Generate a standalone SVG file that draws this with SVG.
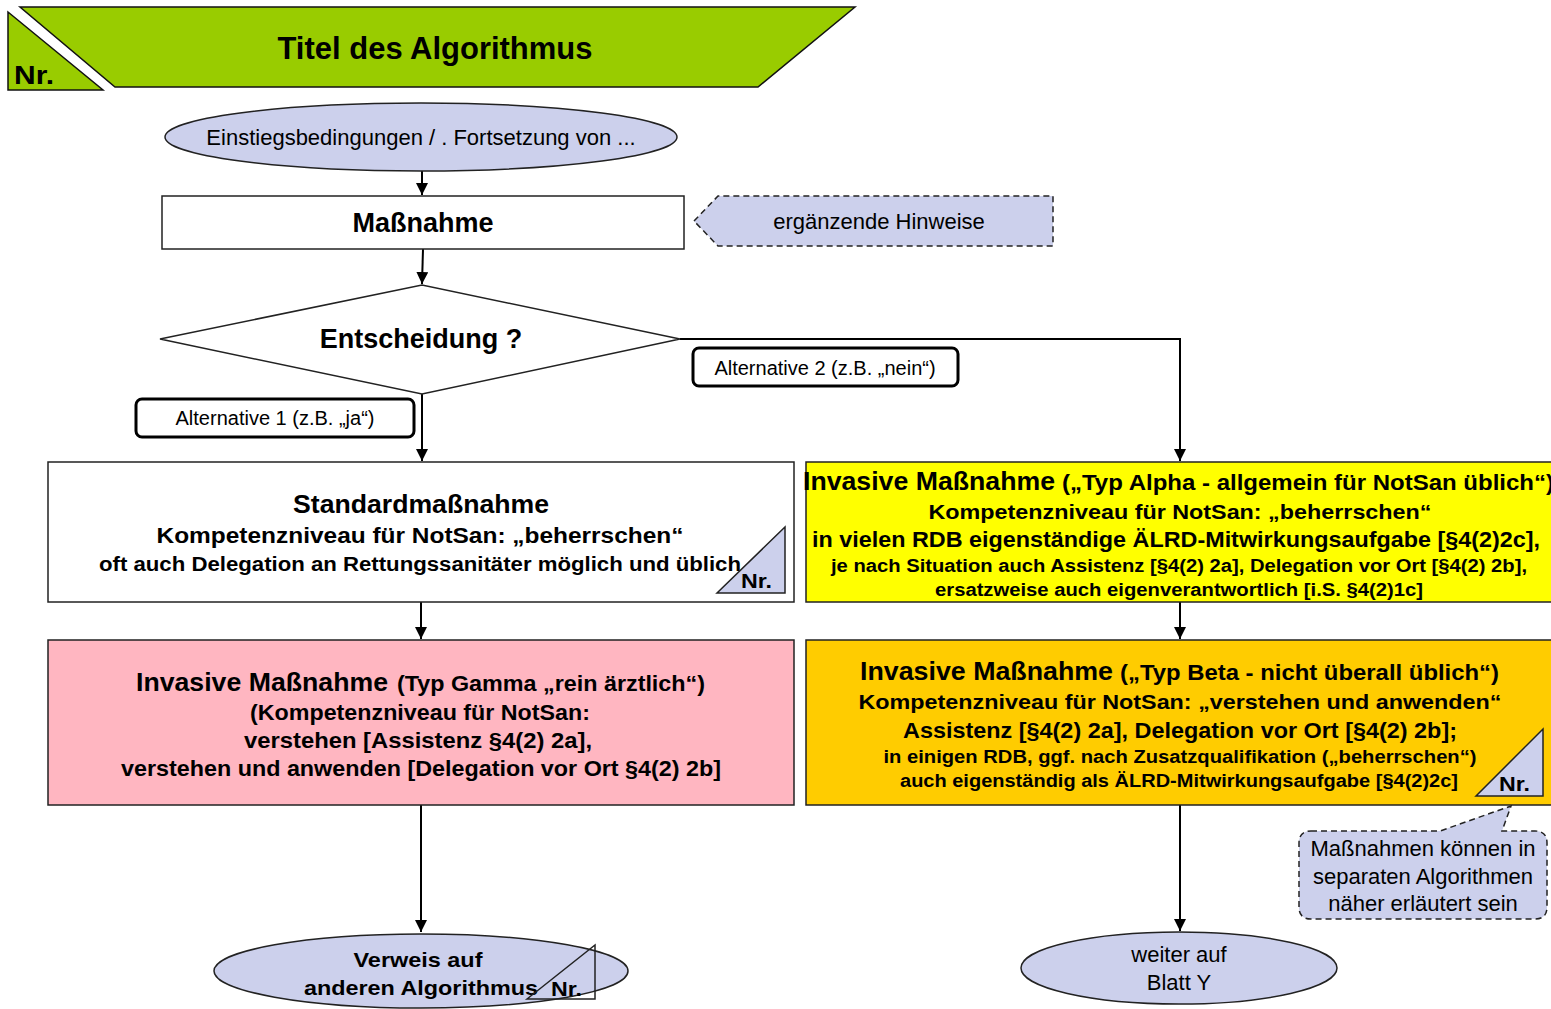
<svg xmlns="http://www.w3.org/2000/svg" width="1551" height="1009" viewBox="0 0 1551 1009">
  <style>
    text { font-family: "Liberation Sans", Arial, sans-serif; fill: #000; }
    .b { font-weight: bold; }
    .c { text-anchor: middle; }
    .box { stroke: #222; stroke-width: 1.5; }
    .lav { fill: #ccd0ec; }
    .conn { fill: none; stroke: #000; stroke-width: 2; }
    .tag { fill: #fff; stroke: #000; stroke-width: 3; }
    .dash { fill: #ccd0ec; stroke: #222; stroke-width: 1.5; stroke-dasharray: 6 4; }
    .nr { fill: #ccd0ec; stroke: #222; stroke-width: 1.5; }
  </style>
  <defs>
    <marker id="arrow" viewBox="0 0 10 10" refX="10" refY="5" markerWidth="6" markerHeight="6" markerUnits="strokeWidth" orient="auto">
      <path d="M0,0 L10,5 L0,10 z" fill="#000"/>
    </marker>
  </defs>

  <rect width="1551" height="1009" fill="#fff"/>

  <!-- header band -->
  <g id="header">
    <polygon points="8,12 8,90 103,90" fill="#99cc00" stroke="#111" stroke-width="1.5"/>
    <polygon points="20,7 855,7 758,87 115,87" fill="#99cc00" stroke="#111" stroke-width="1.5"/>
    <text x="435" y="59" class="b c" font-size="31" textLength="315" lengthAdjust="spacingAndGlyphs">Titel des Algorithmus</text>
    <text x="14" y="84" class="b" font-size="26" textLength="40" lengthAdjust="spacingAndGlyphs">Nr.</text>
  </g>

  <!-- connectors -->
  <g id="connectors">
    <line class="conn" x1="422" y1="171" x2="422" y2="195" marker-end="url(#arrow)"/>
    <line class="conn" x1="423" y1="249" x2="422" y2="284" marker-end="url(#arrow)"/>
    <line class="conn" x1="422" y1="394" x2="422" y2="461" marker-end="url(#arrow)"/>
    <polyline class="conn" points="680,339 1180,339 1180,461" marker-end="url(#arrow)"/>
    <line class="conn" x1="421" y1="602" x2="421" y2="639" marker-end="url(#arrow)"/>
    <line class="conn" x1="1180" y1="602" x2="1180" y2="639" marker-end="url(#arrow)"/>
    <line class="conn" x1="421" y1="805" x2="421" y2="932" marker-end="url(#arrow)"/>
    <line class="conn" x1="1180" y1="805" x2="1180" y2="931" marker-end="url(#arrow)"/>
  </g>

  <!-- entry terminal -->
  <g id="start">
    <ellipse cx="421" cy="137" rx="256" ry="34" class="lav box"/>
    <text x="421" y="145" class="c" font-size="22">Einstiegsbedingungen / . Fortsetzung von ...</text>
  </g>

  <g id="massnahme">
    <rect x="162" y="196" width="522" height="53" fill="#fff" class="box"/>
    <text x="423" y="232" class="b c" font-size="27">Maßnahme</text>
  </g>

  <g id="hinweis">
    <polygon points="694,221 718,196 1053,196 1053,246 718,246" class="dash"/>
    <text x="879" y="229" class="c" font-size="22">ergänzende Hinweise</text>
  </g>

  <g id="entscheidung">
    <polygon points="160,339 422,285 680,339 422,394" fill="#fff" class="box"/>
    <text x="421" y="348" class="b c" font-size="27">Entscheidung ?</text>
  </g>

  <g id="alt1">
    <rect x="136" y="399" width="278" height="38" rx="6" class="tag"/>
    <text x="275" y="425" class="c" font-size="20">Alternative 1 (z.B. „ja“)</text>
  </g>

  <g id="alt2">
    <rect x="693" y="348" width="265" height="38" rx="6" class="tag"/>
    <text x="825" y="375" class="c" font-size="20">Alternative 2 (z.B. „nein“)</text>
  </g>

  <g id="standard">
    <rect x="48" y="462" width="746" height="140" fill="#fff" class="box"/>
    <text x="421" y="513" class="b c" font-size="25" textLength="256" lengthAdjust="spacingAndGlyphs">Standardmaßnahme</text>
    <text x="420" y="543" class="b c" font-size="22" textLength="527" lengthAdjust="spacingAndGlyphs">Kompetenzniveau für NotSan: „beherrschen“</text>
    <text x="420" y="571" class="b c" font-size="20" textLength="642" lengthAdjust="spacingAndGlyphs">oft auch Delegation an Rettungssanitäter möglich und üblich</text>
    <polygon points="717,593 785,527 785,593" class="nr"/>
    <text x="741" y="588" class="b" font-size="20" textLength="31" lengthAdjust="spacingAndGlyphs">Nr.</text>
  </g>

  <g id="gamma">
    <rect x="48" y="640" width="746" height="165" fill="#ffb6c1" class="box"/>
    <text x="136" y="691" class="b" font-size="26" textLength="252" lengthAdjust="spacingAndGlyphs">Invasive Maßnahme</text>
    <text x="397" y="691" class="b" font-size="22" textLength="308" lengthAdjust="spacingAndGlyphs">(Typ Gamma „rein ärztlich“)</text>
    <text x="420" y="720" class="b c" font-size="22" textLength="340" lengthAdjust="spacingAndGlyphs">(Kompetenzniveau für NotSan:</text>
    <text x="418" y="748" class="b c" font-size="22" textLength="348" lengthAdjust="spacingAndGlyphs">verstehen  [Assistenz §4(2) 2a],</text>
    <text x="421" y="776" class="b c" font-size="22" textLength="600" lengthAdjust="spacingAndGlyphs">verstehen und anwenden [Delegation vor Ort §4(2) 2b]</text>
  </g>

  <g id="verweis">
    <ellipse cx="421" cy="971" rx="207" ry="37" class="lav box"/>
    <text x="418" y="967" class="b c" font-size="21" textLength="129" lengthAdjust="spacingAndGlyphs">Verweis auf</text>
    <text x="421" y="995" class="b c" font-size="21" textLength="234" lengthAdjust="spacingAndGlyphs">anderen Algorithmus</text>
    <polygon points="527,999 595,945 595,999" class="nr" fill-opacity="0"/>
    <text x="551" y="996" class="b" font-size="20" textLength="31" lengthAdjust="spacingAndGlyphs">Nr.</text>
  </g>

  <g id="alpha">
    <rect x="806" y="462" width="750" height="140" fill="#ffff00" class="box"/>
    <text x="803" y="490" class="b" font-size="26" textLength="252" lengthAdjust="spacingAndGlyphs">Invasive Maßnahme</text>
    <text x="1062" y="490" class="b" font-size="22" textLength="492" lengthAdjust="spacingAndGlyphs">(„Typ Alpha -  allgemein  für NotSan üblich“)</text>
    <text x="1180" y="519" class="b c" font-size="21" textLength="503" lengthAdjust="spacingAndGlyphs">Kompetenzniveau für NotSan: „beherrschen“</text>
    <text x="1176" y="547" class="b c" font-size="22" textLength="728" lengthAdjust="spacingAndGlyphs">in vielen RDB eigenständige ÄLRD-Mitwirkungsaufgabe [§4(2)2c],</text>
    <text x="1179" y="572" class="b c" font-size="18" textLength="696" lengthAdjust="spacingAndGlyphs">je nach Situation  auch Assistenz [§4(2) 2a], Delegation vor Ort [§4(2) 2b],</text>
    <text x="1179" y="596" class="b c" font-size="18" textLength="488" lengthAdjust="spacingAndGlyphs">ersatzweise auch eigenverantwortlich  [i.S. §4(2)1c]</text>
  </g>

  <g id="beta">
    <rect x="806" y="640" width="750" height="165" fill="#ffcc00" class="box"/>
    <text x="860" y="680" class="b" font-size="26" textLength="253" lengthAdjust="spacingAndGlyphs">Invasive Maßnahme</text>
    <text x="1120" y="680" class="b" font-size="22" textLength="379" lengthAdjust="spacingAndGlyphs">(„Typ Beta  - nicht überall üblich“)</text>
    <text x="1180" y="709" class="b c" font-size="21" textLength="643" lengthAdjust="spacingAndGlyphs">Kompetenzniveau für NotSan: „verstehen und anwenden“</text>
    <text x="1180" y="738" class="b c" font-size="22" textLength="554" lengthAdjust="spacingAndGlyphs">Assistenz [§4(2) 2a], Delegation vor Ort [§4(2) 2b];</text>
    <text x="1180" y="763" class="b c" font-size="18" textLength="593" lengthAdjust="spacingAndGlyphs">in einigen RDB,  ggf. nach Zusatzqualifikation („beherrschen“)</text>
    <text x="1179" y="787" class="b c" font-size="18" textLength="558" lengthAdjust="spacingAndGlyphs">auch eigenständig als ÄLRD-Mitwirkungsaufgabe [§4(2)2c]</text>
    <polygon points="1476,796 1543,729 1543,796" class="nr"/>
    <text x="1499" y="791" class="b" font-size="20" textLength="31" lengthAdjust="spacingAndGlyphs">Nr.</text>
  </g>

  <g id="weiter">
    <ellipse cx="1179" cy="968" rx="158" ry="36" class="lav box"/>
    <text x="1179" y="962" class="c" font-size="22">weiter auf</text>
    <text x="1179" y="990" class="c" font-size="22">Blatt Y</text>
  </g>

  <g id="callout">
    <path d="M1311,831 L1440,831 L1511,806 L1502,831 L1535,831 Q1547,831 1547,843 L1547,907 Q1547,919 1535,919 L1311,919 Q1299,919 1299,907 L1299,843 Q1299,831 1311,831 Z" class="dash"/>
    <text x="1423" y="856" class="c" font-size="22">Maßnahmen können in</text>
    <text x="1423" y="884" class="c" font-size="22">separaten Algorithmen</text>
    <text x="1423" y="911" class="c" font-size="22">näher erläutert sein</text>
  </g>
</svg>
